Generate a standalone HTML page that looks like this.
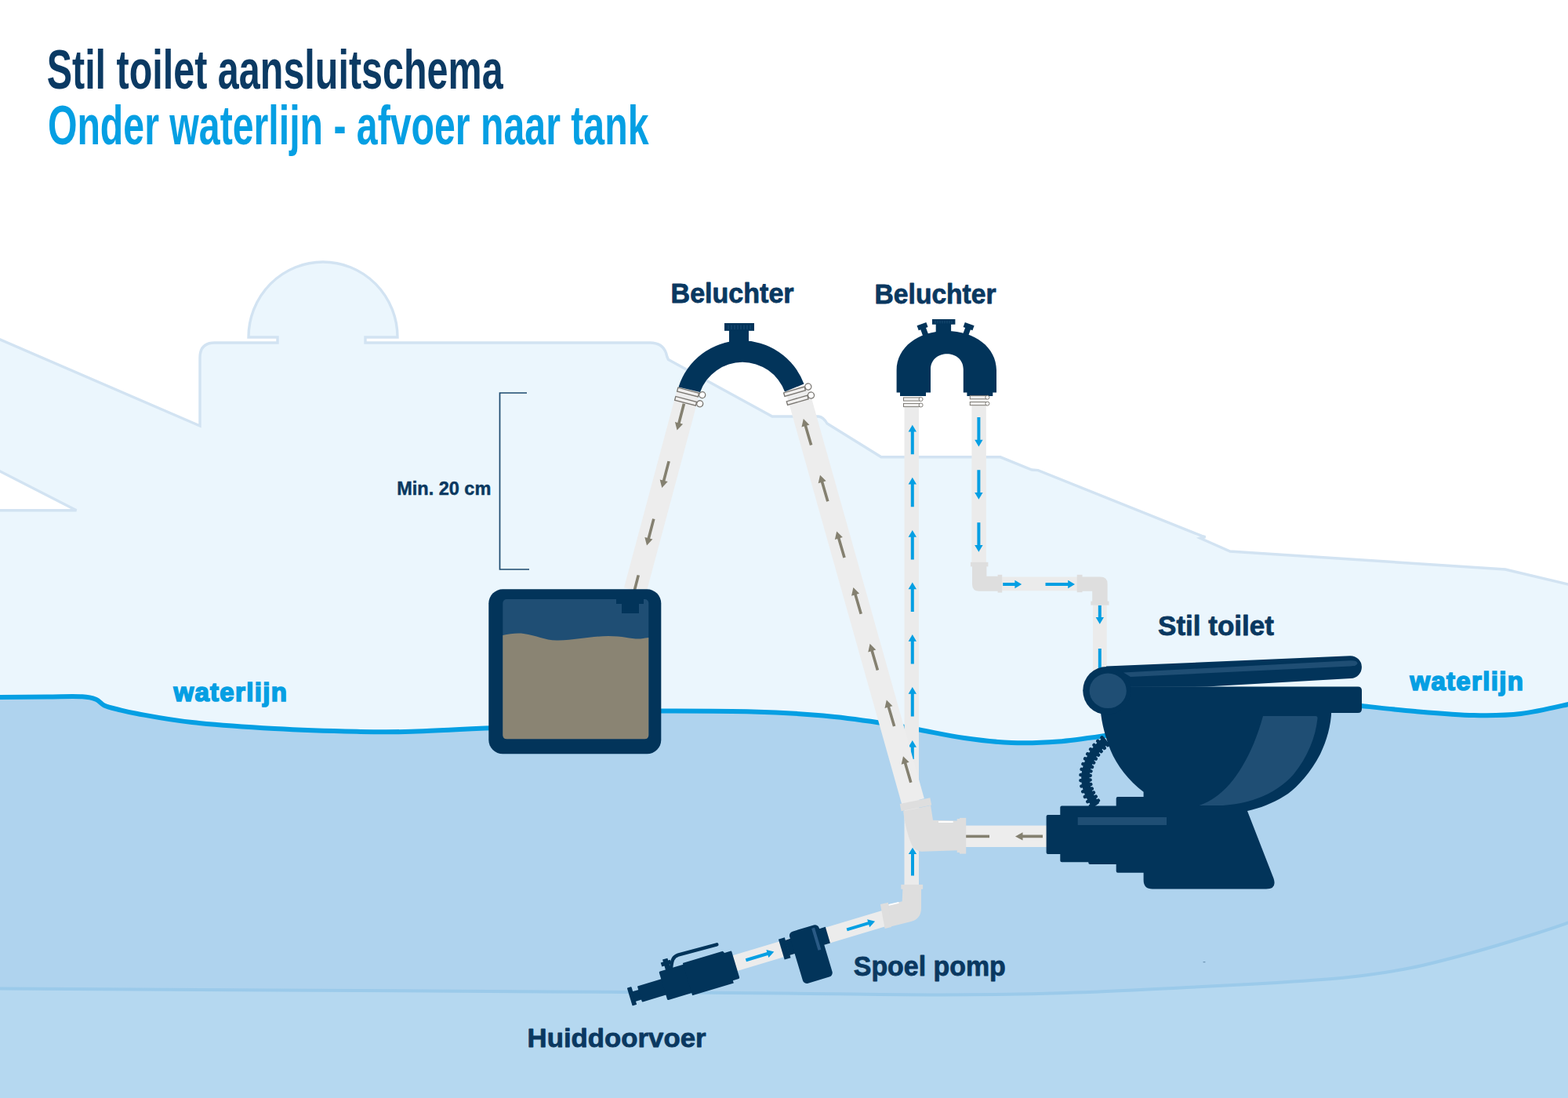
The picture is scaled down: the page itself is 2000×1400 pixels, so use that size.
<!DOCTYPE html>
<html lang="nl">
<head>
<meta charset="utf-8">
<title>Stil toilet aansluitschema</title>
<style>
  html, body { margin: 0; padding: 0; background: #ffffff; }
  body { width: 2000px; height: 1400px; overflow: hidden; font-family: "Liberation Sans", sans-serif; }
  svg { display: block; }
  text { font-family: "Liberation Sans", sans-serif; font-weight: bold; }
  .navy { fill: #02345a; }
  .lbl { fill: #0a3860; stroke: #0a3860; stroke-width: 0.8px; stroke-linejoin: round; }
  .wl { fill: #059fe3; stroke: #059fe3; stroke-width: 1px; stroke-linejoin: round; }
</style>
</head>
<body>
<svg width="2000" height="1400" viewBox="0 0 2000 1400">
  <rect x="0" y="0" width="2000" height="1400" fill="#ffffff"/>
  <defs>
    <!-- arrows: tip at origin, pointing up (-y), body extends to +y -->
    <path id="ab" d="M0 0 L5.2 8.8 L2 8.8 L2 37.5 L-2 37.5 L-2 8.8 L-5.2 8.8 Z" fill="#059fe3"/>
    <path id="abs" d="M0 0 L5.2 8.8 L2 8.8 L2 24 L-2 24 L-2 8.8 L-5.2 8.8 Z" fill="#059fe3"/>
    <path id="ag" d="M0 0 L5.2 9.5 L1.8 9.5 L1.8 35 L-1.8 35 L-1.8 9.5 L-5.2 9.5 Z" fill="#848070"/>
    <g id="clamp">
      <rect x="-13.8" y="-2.4" width="27.6" height="4.8" fill="#f1f0ef" stroke="#7b7873" stroke-width="1.35"/>
      <circle cx="18.4" cy="-1.2" r="4" fill="#ffffff" stroke="#7b7873" stroke-width="1.35"/>
    </g>
    <g id="clamps">
      <rect x="-10.5" y="-2.1" width="21" height="4.2" fill="#f1f0ef" stroke="#7d7a74" stroke-width="1"/>
      <circle cx="11.6" cy="0" r="2.5" fill="#ffffff" stroke="#7d7a74" stroke-width="1"/>
    </g>
  </defs>


  <!-- ===== BOAT SILHOUETTE ===== -->
  <g id="boat">
    <path d="M -5 430.8 L 255 543 L 255 456 Q 255 437 274 437 L 354 437 L 354 430 L 317 430
             A 95 96 0 0 1 507 430 L 466 430 L 466 437 L 829 437 Q 845 437 849.5 450 Q 851 456 852.5 458.6
             L 985 531 L 1044 531 Q 1050 531.5 1055 540 L 1124 582.8 L 1276 582.8 L 1316 599 L 1324 599.6
             L 1533 683.4 L 1537.5 684.6 L 1531 686.2 L 1569 703 L 1920 726 L 2005 746.2 L 2005 1000 L -5 1000 L -5 650.8 L 97.5 650.8 L -5 598.4 Z"
          fill="#ebf6fd" stroke="#d2e3f2" stroke-width="3.4" stroke-linejoin="miter"/>
  </g>

  <!-- ===== WATER ===== -->
  <g id="water">
    <path d="M -5.0 889.0 C 5.8 888.9 41.7 888.5 60.0 888.4 C 78.3 888.3 94.6 887.7 105.0 888.3 C 115.4 888.9 117.8 889.9 122.5 891.8 C 127.2 893.7 128.4 897.4 133.0 899.5 C 137.6 901.6 143.0 902.8 150.0 904.5 C 157.0 906.2 159.2 907.2 175.0 910.0 C 190.8 912.8 215.8 917.8 245.0 921.0 C 274.2 924.2 315.0 927.0 350.0 929.0 C 385.0 931.0 425.8 932.2 455.0 932.8 C 484.2 933.4 494.2 933.7 525.0 932.8 C 555.8 931.9 620.8 928.4 640.0 927.5 L 843 906.5 C 862.5 906.6 925.5 906.4 960.0 907.4 C 994.5 908.4 1023.0 910.1 1050.0 912.5 C 1077.0 914.9 1101.5 918.5 1122.0 921.5 C 1142.5 924.5 1155.0 927.2 1173.0 930.5 C 1191.0 933.8 1210.5 938.2 1230.0 941.0 C 1249.5 943.8 1270.0 946.2 1290.0 947.0 C 1310.0 947.8 1328.3 947.2 1350.0 945.5 C 1371.7 943.8 1408.3 938.0 1420.0 936.5 L 1736.7 900 C 1748.1 901.2 1781.1 905.0 1805.0 907.0 C 1828.9 909.0 1857.5 911.5 1880.0 912.0 C 1902.5 912.5 1919.2 912.5 1940.0 910.0 C 1960.8 907.5 1994.2 899.2 2005.0 897.0 L 2005 1405 L -5 1405 Z" fill="#afd3ee"/>
    <path d="M -5.0 1260.5 C 54.2 1260.8 232.5 1261.8 350.0 1262.5 C 467.5 1263.2 591.7 1263.7 700.0 1264.4 C 808.3 1265.1 916.7 1265.8 1000.0 1266.5 C 1083.3 1267.2 1140.0 1268.5 1200.0 1268.4 C 1260.0 1268.3 1306.7 1267.6 1360.0 1266.0 C 1413.3 1264.4 1476.0 1260.9 1520.0 1258.8 C 1564.0 1256.7 1590.7 1255.3 1624.0 1253.2 C 1657.3 1251.1 1690.7 1249.2 1720.0 1246.0 C 1749.3 1242.8 1773.3 1239.3 1800.0 1234.0 C 1826.7 1228.7 1853.3 1221.3 1880.0 1214.0 C 1906.7 1206.7 1939.2 1196.5 1960.0 1190.0 C 1980.8 1183.5 1997.5 1177.5 2005.0 1175.0 L 2005 1405 L -5 1405 Z" fill="#b5d8f0" stroke="#9bcaea" stroke-width="4"/>
    <path d="M -5.0 889.0 C 5.8 888.9 41.7 888.5 60.0 888.4 C 78.3 888.3 94.6 887.7 105.0 888.3 C 115.4 888.9 117.8 889.9 122.5 891.8 C 127.2 893.7 128.4 897.4 133.0 899.5 C 137.6 901.6 143.0 902.8 150.0 904.5 C 157.0 906.2 159.2 907.2 175.0 910.0 C 190.8 912.8 215.8 917.8 245.0 921.0 C 274.2 924.2 315.0 927.0 350.0 929.0 C 385.0 931.0 425.8 932.2 455.0 932.8 C 484.2 933.4 494.2 933.7 525.0 932.8 C 555.8 931.9 620.8 928.4 640.0 927.5 L 843 906.5 C 862.5 906.6 925.5 906.4 960.0 907.4 C 994.5 908.4 1023.0 910.1 1050.0 912.5 C 1077.0 914.9 1101.5 918.5 1122.0 921.5 C 1142.5 924.5 1155.0 927.2 1173.0 930.5 C 1191.0 933.8 1210.5 938.2 1230.0 941.0 C 1249.5 943.8 1270.0 946.2 1290.0 947.0 C 1310.0 947.8 1328.3 947.2 1350.0 945.5 C 1371.7 943.8 1408.3 938.0 1420.0 936.5 L 1736.7 900 C 1748.1 901.2 1781.1 905.0 1805.0 907.0 C 1828.9 909.0 1857.5 911.5 1880.0 912.0 C 1902.5 912.5 1919.2 912.5 1940.0 910.0 C 1960.8 907.5 1994.2 899.2 2005.0 897.0" fill="none" stroke="#059fe3" stroke-width="6"/>
  </g>

  <!-- ===== PIPES ===== -->
  <g id="pipes">
    <!-- flush vertical pipe (left of beluchter 2) -->
    <rect x="1153.5" y="518" width="18.5" height="612" fill="#ebebeb"/>
    <use href="#ab" transform="translate(1163.8,541.8)"/>
    <use href="#ab" transform="translate(1163.8,608.8)"/>
    <use href="#ab" transform="translate(1163.8,676)"/>
    <use href="#ab" transform="translate(1163.8,742.5)"/>
    <use href="#ab" transform="translate(1163.8,809)"/>
    <use href="#ab" transform="translate(1163.8,876)"/>
    <use href="#abs" transform="translate(1163.8,944)"/>
    <!-- flush pipe right of beluchter 2 -->
    <rect x="1239.4" y="515" width="18.5" height="205" fill="#ebebeb"/>
    <use href="#ab" transform="translate(1248.4,569.5) rotate(180)"/>
    <use href="#ab" transform="translate(1248.4,636.8) rotate(180)"/>
    <use href="#ab" transform="translate(1248.4,703.7) rotate(180)"/>
    <rect x="1276" y="735.5" width="100" height="17.8" fill="#ebebeb"/>
    <use href="#abs" transform="translate(1303.2,745) rotate(90)"/>
    <use href="#ab" transform="translate(1371,745) rotate(90)"/>
    <rect x="1394" y="768" width="17.8" height="90" fill="#ebebeb"/>
    <use href="#abs" transform="translate(1402.8,795.8) rotate(180)"/>
    <rect x="1400.8" y="827" width="4" height="30" fill="#059fe3"/>
    <!-- elbow 1 -->
    <path d="M1240 720 L1258.4 720 L1258.4 734.7 L1274 734.7 L1274 753.8 L1249 753.8 Q1240 753.8 1240 744.8 Z" fill="#dedede"/>
    <rect x="1238" y="716.8" width="22.4" height="5.6" fill="#dedede"/>
    <rect x="1272.6" y="732.8" width="5.6" height="22.8" fill="#dedede"/>
    <!-- elbow 2 -->
    <path d="M1379 735.4 L1403.5 735.4 Q1412.6 735.4 1412.6 744.4 L1412.6 768 L1393.2 768 L1393.2 753.8 L1379 753.8 Z" fill="#dedede"/>
    <rect x="1373.7" y="732.8" width="6.8" height="22.4" fill="#dedede"/>
    <rect x="1391.3" y="766.6" width="23.2" height="5" fill="#dedede"/>

    <!-- waste horizontal pipe from toilet -->
    <rect x="1228" y="1052.6" width="110" height="27.4" fill="#ededed"/>
    <g transform="translate(1232,1066.4) rotate(-90)"><rect x="-1.8" y="0" width="3.6" height="30" fill="#848070"/></g>
    <use href="#ag" transform="translate(1295,1066.4) rotate(-90)"/>

    <!-- waste diagonal hose (to beluchter 1 right) -->
    <path d="M1015.9 494 L1164.6 1022" stroke="#ededed" stroke-width="29.5" fill="none"/>
    <!-- waste hose left (beluchter 1 -> tank) -->
    <path d="M879 495.5 L810 753" stroke="#ededed" stroke-width="29" fill="none"/>
    <!-- arrows on left hose (down) -->
    <use href="#ag" transform="translate(863.6,548.6) rotate(194.6)"/>
    <use href="#ag" transform="translate(844.3,622) rotate(194.6)"/>
    <use href="#ag" transform="translate(825,695.5) rotate(194.6)"/>
    <g transform="translate(814.3,733.4) rotate(14.6)"><rect x="-1.8" y="0" width="3.6" height="22" fill="#848070"/></g>
    <!-- arrows on right hose (up) -->
    <use href="#ag" transform="translate(1024.8,534) rotate(-16.3)"/>
    <use href="#ag" transform="translate(1046,605.7) rotate(-16.3)"/>
    <use href="#ag" transform="translate(1067.2,677.4) rotate(-16.3)"/>
    <use href="#ag" transform="translate(1088.4,749.1) rotate(-16.3)"/>
    <use href="#ag" transform="translate(1109.6,820.8) rotate(-16.3)"/>
    <use href="#ag" transform="translate(1130.8,892.5) rotate(-16.3)"/>
    <use href="#ag" transform="translate(1152,964.2) rotate(-16.3)"/>
  </g>

  <!-- ===== TANK ===== -->
  <g id="tank">
    <rect x="623.3" y="751.3" width="220" height="210" rx="18" ry="18" fill="#02345a"/>
    <rect x="641.3" y="764" width="186" height="178.3" rx="5" ry="5" fill="#1f4e74"/>
    <path d="M641.3 810 C650 808 660 807 668 808 C685 810 695 817 712 816.5 C735 816 755 811 776 811 C795 811 805 815 817 814.5 C822 814 825 813 827.3 813 L827.3 937.3 Q827.3 942.3 822.3 942.3 L646.3 942.3 Q641.3 942.3 641.3 937.3 Z" fill="#8a8473"/>
    <path d="M786 763 L821 763 L821 770 L815 770 L815 782 L793 782 L793 770 L786 770 Z" fill="#02345a"/>
  </g>

  <!-- ===== BELUCHTERS ===== -->
  <g id="beluchters">
    <!-- Beluchter 1 -->
    <path d="M865.5 493.5 A84.6 84.6 0 0 1 1025.5 489.5 L1001 499.5 A57.4 57.4 0 0 0 893 500 Z" fill="#02345a"/>
    <rect x="930" y="418" width="25" height="24" fill="#02345a"/>
    <rect x="924" y="412" width="38" height="9.8" fill="#02345a"/>
    <g stroke="#2a5a85" stroke-width="0.7">
      <path d="M929 414.5V420M933 414.5V420M937 414.5V420M941 414.5V420M945 414.5V420M949 414.5V420M953 414.5V420M957 414.5V420"/>
    </g>
    <!-- clamps B1 left -->
    <use href="#clamp" transform="translate(877.6,500.1) rotate(14.6)"/>
    <use href="#clamp" transform="translate(874.6,511.3) rotate(14.6)"/>
    <!-- clamps B1 right -->
    <use href="#clamp" transform="translate(1013.5,499.3) rotate(-16.2)"/>
    <use href="#clamp" transform="translate(1017.2,510.3) rotate(-16.2)"/>

    <!-- Beluchter 2 -->
    <path d="M1143.6 500.4 L1143.6 472 C1143.8 443 1171 422 1207.3 422 C1243.6 422 1270.8 443 1271 472 L1271 500.4
             L1266.3 500.4 L1266.3 505 L1233.4 505 L1233.4 500.4 L1228.8 500.4 L1228.8 471 C1228.8 444.5 1187 444.5 1187 471 L1187 500.4
             L1181 500.4 L1181 505 L1148 505 L1148 500.4 Z" fill="#02345a"/>
    <rect x="1193.7" y="410" width="19.4" height="16" fill="#02345a"/>
    <rect x="1189" y="407" width="29.4" height="6.7" fill="#02345a"/>
    <g stroke="#2a5a85" stroke-width="0.6">
      <path d="M1193 408.7V412.4M1196 408.7V412.4M1199 408.7V412.4M1202 408.7V412.4M1205 408.7V412.4M1208 408.7V412.4M1211 408.7V412.4M1214 408.7V412.4"/>
    </g>
    <g transform="translate(1176.6,416.2) rotate(-20)">
      <rect x="-6.3" y="-3.3" width="12.6" height="6.4" fill="#02345a"/>
      <rect x="-3.6" y="0" width="7.2" height="14" fill="#02345a"/>
    </g>
    <g transform="translate(1235.6,416.2) rotate(20)">
      <rect x="-6.3" y="-3.3" width="12.6" height="6.4" fill="#02345a"/>
      <rect x="-3.6" y="0" width="7.2" height="14" fill="#02345a"/>
    </g>
    <use href="#clamps" transform="translate(1163,509)"/>
    <use href="#clamps" transform="translate(1163,516.5)"/>
    <use href="#clamps" transform="translate(1247.8,506.7)"/>
    <use href="#clamps" transform="translate(1247.8,514.6)"/>
  </g>

  <!-- ===== TOILET ===== -->
  <g id="toilet">
    <!-- coiled hose -->
    <path d="M1411 944 C1392 958 1380 982 1386 1004 C1388 1012 1392 1019 1398 1027" fill="none" stroke="#02345a" stroke-width="10.4"/>
    <path d="M1413.1 950.1L1405.5 940.5M1408.7 953.9L1400.3 945.0M1404.6 958.1L1395.5 950.0M1401.0 962.6L1391.1 955.4M1397.7 967.5L1387.2 961.3M1395.1 972.5L1384.1 967.4M1393.0 978.0L1381.4 974.1M1391.5 983.4L1379.6 980.9M1390.7 988.9L1378.5 988.0M1390.6 994.5L1378.4 995.2M1391.3 1000.0L1379.4 1002.4M1392.8 1005.5L1381.2 1009.3M1394.9 1010.6L1383.9 1015.9M1397.7 1015.7L1387.3 1022.1M1400.9 1020.7L1391.0 1027.7" fill="none" stroke="#02345a" stroke-width="4.5" stroke-linecap="round"/>
    <!-- motor housing + pedestal + bowl -->
    <path d="M1336.6 1039 L1352.3 1039 L1352.3 1029.5 Q1352.3 1027.5 1354.3 1027.5 L1423.7 1027.5 L1423.7 1018 Q1423.7 1016 1425.7 1016 L1458.6 1016 L1458.6 1009.7
             C1440 996 1424 975 1416.6 956.7 C1410 940 1405 922 1403.7 905 L1698.3 905
             C1698 925 1692 945 1684 961.4 C1672 985 1655 1003 1642.9 1012 C1628 1022 1610 1030 1591 1034
             L1624.5 1120 Q1629 1133.5 1615 1133.5 L1470 1133.5 Q1458.6 1133.5 1458.6 1122 L1458.6 1112.7 L1425.7 1112.7 Q1423.7 1112.7 1423.7 1110.7
             L1423.7 1102 L1390.3 1102 Q1388.3 1102 1388.3 1100 L1388.3 1099.3 L1354.3 1099.3 Q1352.3 1099.3 1352.3 1097.3 L1352.3 1089 L1336.6 1089 Q1334.6 1089 1334.6 1087 L1334.6 1041 Q1334.6 1039 1336.6 1039 Z" fill="#02345a"/>
    <rect x="1374.7" y="1042" width="113.3" height="10" fill="#1f4e74"/>
    <!-- bowl highlight -->
    <path d="M1611 913 L1678 913 Q1681 913 1680.5 916 C1678 940 1668 965 1650 987.3 C1630 1010 1600 1024 1560 1027 L1529.7 1027
             C1555 1018 1572 998 1584 978 C1596 958 1604 938 1611 913 Z" fill="#1f4e74"/>
    <!-- seat -->
    <path d="M1400 875.4 L1732 875.4 Q1737 875.4 1737 880.4 L1737 904 Q1737 909 1732 909 L1400 909 Z" fill="#02345a"/>
    <!-- lid -->
    <path d="M1411 849.6 L1722 836.2 A14.4 14.4 0 0 1 1723 865 L1539 875.6 L1411 876 Z" fill="#02345a"/>
    <circle cx="1411.8" cy="880.5" r="30.6" fill="#02345a"/>
    <ellipse cx="1413.2" cy="880.8" rx="23.6" ry="22.3" fill="#1f4e74"/>
    <path d="M1433 857.5 L1722 842.2 Q1731 841.8 1731.5 845.5 Q1731.5 849 1722 849.6 L1442 863 Z" fill="#1f4e74"/>
  </g>

  <!-- ===== PUMP + SEACOCK ===== -->
  <g id="lower">
    <!-- waste elbow (upper) -->
    <path d="M1152.1 1034.3 C1154 1050 1158 1066 1162.9 1077.1 Q1166 1085.9 1176 1085.7 L1221.4 1084.3 L1221.4 1046.4 L1190 1045.7 L1187.1 1027.1 Z" fill="#dedede"/>
    <g transform="translate(1168,1025.7) rotate(-11.5)"><rect x="-19.7" y="-4.7" width="39.4" height="9.4" fill="#dedede"/></g>
    <rect x="1220.7" y="1044" width="4" height="43" fill="#dedede"/>
    <rect x="1224" y="1042.9" width="8.2" height="45.7" fill="#dedede"/>
    <rect x="1197" y="1046.9" width="18.7" height="2" fill="#ffffff"/>
    <use href="#ab" transform="translate(1164,1080.7) scale(1,0.955)"/>
    <!-- angled pipe group -->
    <g transform="translate(1090,1181.65) rotate(-16.7)">
      <rect x="-162" y="-9.6" width="205" height="20.5" fill="#ececec"/>
      <!-- arrows -->
      <use href="#ab" transform="translate(27,0.8) rotate(90)"/>
      <use href="#ab" transform="translate(-107.5,1) rotate(90)"/>
      <!-- pump -->
      <rect x="-97.6" y="-12.5" width="8.2" height="27" fill="#02345a"/>
      <rect x="-90" y="-9" width="8" height="20" fill="#02345a"/>
      <rect x="-83" y="-17" width="39.3" height="69" rx="5.5" ry="5.5" fill="#02345a"/>
      <rect x="-44.5" y="-10.5" width="8.8" height="21.5" fill="#02345a"/>
      <rect x="-53.2" y="-13.5" width="4" height="29" fill="#2a5a85"/>
      <!-- seacock -->
      <rect x="-300.4" y="-8.6" width="5.8" height="23.8" rx="0.8" fill="#02345a"/>
      <rect x="-296" y="-2.2" width="10" height="13.2" fill="#02345a"/>
      <rect x="-287.2" y="-7" width="33" height="21.1" rx="1" fill="#02345a"/>
      <rect x="-255.5" y="-16.8" width="34" height="38" rx="1.5" fill="#02345a"/>
      <path d="M-223.3 -18.5 L-170 -18.5 L-168.5 -15.8 L-160.7 -15.8 Q-159.2 -15.8 -159.2 -14.3 L-159.2 19.5 Q-159.2 21 -160.7 21 L-168.3 21 L-168.3 24.5 L-223.3 24.5 Z" fill="#02345a"/>
      <rect x="-246.7" y="-30.2" width="6.6" height="15" fill="#02345a"/>
      <rect x="-250" y="-27.2" width="12.5" height="5.4" fill="#02345a"/>
      <path d="M-239 -17.5 C-236 -24 -234 -29.8 -226 -30.2 L-174.8 -28.7" fill="none" stroke="#02345a" stroke-width="4.5" stroke-linecap="round"/>
    </g>
    <!-- lower elbow -->
    <path d="M1151.4 1133 L1175 1133 L1175 1158 Q1175 1171.5 1162 1175 L1136 1181.6 L1132.9 1153.6 L1150.7 1149.3 Z" fill="#dedede"/>
    <rect x="1149.3" y="1127.9" width="27.8" height="5.8" fill="#dedede"/>
    <path d="M1122.9 1152.9 L1132.9 1150.7 L1137 1182 L1128.6 1184 Z" fill="#dedede"/>
    <path d="M1133.6 1153.8 L1146.4 1150.8" stroke="#ffffff" stroke-width="1.8" fill="none"/>
    <!-- bracket -->
    <path d="M672 501 L637.5 501 L637.5 726 L675 726" fill="none" stroke="#1d4a6e" stroke-width="1.7"/>
  </g>

  <rect id="speck" x="1534.6" y="1226.2" width="2.8" height="1" fill="#5f86a6"/>
  <!-- ===== TEXT ===== -->
  <g id="title">
    <text x="59.65" y="112.75" font-size="71" fill="#0b3a63" textLength="582" lengthAdjust="spacingAndGlyphs">Stil toilet aansluitschema</text>
    <text x="60.9" y="183.85" font-size="71" fill="#059fe3" textLength="766.6" lengthAdjust="spacingAndGlyphs">Onder waterlijn - afvoer naar tank</text>
  </g>
  <g id="labels">
    <text class="lbl" x="855.6" y="385.8" font-size="34.6" textLength="157" lengthAdjust="spacingAndGlyphs">Beluchter</text>
    <text class="lbl" x="1115.6" y="386.5" font-size="34.6" textLength="155" lengthAdjust="spacingAndGlyphs">Beluchter</text>
    <text class="lbl" x="1477" y="810" font-size="34.6" textLength="148" lengthAdjust="spacingAndGlyphs">Stil toilet</text>
    <text class="lbl" x="1088.8" y="1244" font-size="34.6" textLength="194" lengthAdjust="spacingAndGlyphs">Spoel pomp</text>
    <text class="lbl" x="672.6" y="1334.8" font-size="34" textLength="228" lengthAdjust="spacingAndGlyphs">Huiddoorvoer</text>
    <text class="lbl" x="506.3" y="630.8" font-size="23.6" style="stroke-width:0.5px" textLength="120" lengthAdjust="spacingAndGlyphs">Min. 20 cm</text>
    <text class="wl" x="221.4" y="894" font-size="33" style="stroke-width:1.7px;stroke-linejoin:miter" textLength="144.4" lengthAdjust="spacing">waterlijn</text>
    <text class="wl" x="1798.4" y="880.4" font-size="33" style="stroke-width:1.7px;stroke-linejoin:miter" textLength="144.4" lengthAdjust="spacing">waterlijn</text>
  </g>
</svg>
</body>
</html>
